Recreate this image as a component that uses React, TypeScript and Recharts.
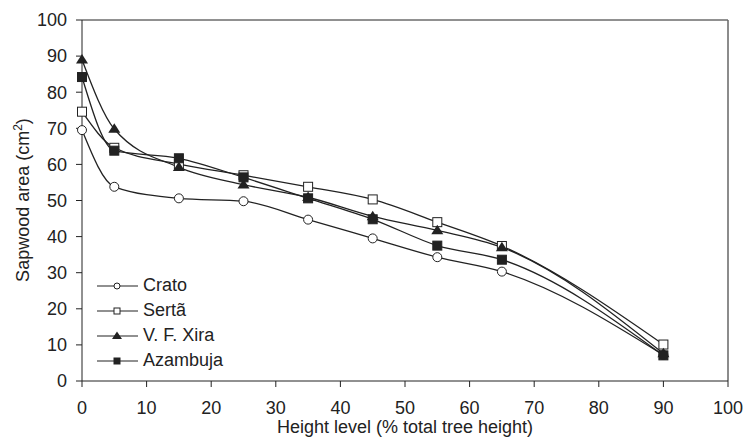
import { Line, LineChart, ReferenceLine, XAxis, YAxis } from "recharts";

const heightLevels = [0, 5, 15, 25, 35, 45, 55, 65, 90];
const crato = [69.5, 53.8, 50.6, 49.8, 44.7, 39.5, 34.3, 30.3, 7.2];
const serta = [74.6, 64.6, 60.1, 57.0, 53.8, 50.3, 44.0, 37.4, 10.1];
const vfXira = [89.0, 69.8, 59.2, 54.4, 50.9, 45.6, 41.7, 37.0, 7.6];
const azambuja = [84.2, 63.8, 61.7, 56.4, 50.6, 44.8, 37.5, 33.6, 7.1];
const xTicks = [0, 10, 20, 30, 40, 50, 60, 70, 80, 90, 100];
const yTicks = [0, 10, 20, 30, 40, 50, 60, 70, 80, 90, 100];

type MarkerKind = "circle" | "square" | "triangle" | "filledSquare";

const series: { key: string; name: string; marker: MarkerKind }[] = [
  { key: "crato", name: "Crato", marker: "circle" },
  { key: "serta", name: "Sertã", marker: "square" },
  { key: "vfXira", name: "V. F. Xira", marker: "triangle" },
  { key: "azambuja", name: "Azambuja", marker: "filledSquare" },
];

const data = heightLevels.map((h, i) => ({
  height: h,
  crato: crato[i],
  serta: serta[i],
  vfXira: vfXira[i],
  azambuja: azambuja[i],
}));

const INK = "#222";
const FONT = "'Liberation Sans', Arial, sans-serif";

function Marker({ kind, cx, cy, s }: { kind: MarkerKind; cx: number; cy: number; s: number }) {
  if (kind === "circle") {
    return <circle cx={cx} cy={cy} r={s / 2} fill="#fff" stroke={INK} strokeWidth={1} />;
  }
  if (kind === "square" || kind === "filledSquare") {
    return (
      <rect
        x={cx - s / 2}
        y={cy - s / 2}
        width={s}
        height={s}
        fill={kind === "square" ? "#fff" : INK}
        stroke={INK}
        strokeWidth={1}
      />
    );
  }
  const h = s * 0.95;
  return (
    <polygon
      points={`${cx},${cy - h * 0.6} ${cx - s / 2 - 1},${cy + h * 0.4} ${cx + s / 2 + 1},${cy + h * 0.4}`}
      fill={INK}
    />
  );
}

// legend sits inside the plot, lower left
function LegendBox() {
  return (
    <div
      style={{
        position: "absolute",
        left: 97,
        top: 273,
        fontFamily: FONT,
        fontSize: 18,
        color: INK,
        lineHeight: "25px",
      }}
    >
      {series.map((s) => (
        <div key={s.key} style={{ display: "flex", alignItems: "center", height: 25 }}>
          <svg width={46} height={14}>
            <line x1={0} y1={7} x2={41} y2={7} stroke={INK} strokeWidth={1.2} />
            <Marker kind={s.marker} cx={20} cy={7} s={s.marker === "triangle" ? 8 : 6} />
          </svg>
          <span>{s.name}</span>
        </div>
      ))}
    </div>
  );
}

function YTitle() {
  return (
    <text
      x={29}
      y={200}
      transform="rotate(-90, 29, 200)"
      textAnchor="middle"
      fill={INK}
      fontSize={18}
      fontFamily={FONT}
    >
      Sapwood area (cm
      <tspan dy={-7} fontSize={12}>2</tspan>
      <tspan dy={7}>)</tspan>
    </text>
  );
}

function XTitle() {
  return (
    <text x={405} y={433} textAnchor="middle" fill={INK} fontSize={18} fontFamily={FONT}>
      Height level (% total tree height)
    </text>
  );
}

export default function App() {
  return (
    <div style={{ position: "absolute", left: 0, top: 0, width: 746, height: 444, background: "#fff" }}>
      <LineChart width={746} height={444} data={data} margin={{ top: 20, right: 18, bottom: 0, left: 0 }}>
        <XAxis
          dataKey="height"
          type="number"
          domain={[0, 100]}
          ticks={xTicks}
          interval={0}
          height={63}
          tickSize={6}
          tickMargin={14}
          axisLine={{ stroke: INK }}
          tickLine={{ stroke: INK }}
          tick={{ fill: INK, fontSize: 18, fontFamily: FONT }}
          label={{ content: () => <XTitle /> }}
        />
        <YAxis
          type="number"
          domain={[0, 100]}
          ticks={yTicks}
          interval={0}
          width={82}
          tickSize={6}
          tickMargin={9}
          axisLine={{ stroke: INK }}
          tickLine={{ stroke: INK }}
          tick={{ fill: INK, fontSize: 18, fontFamily: FONT }}
          label={{ content: () => <YTitle /> }}
        />
        <ReferenceLine y={100} stroke={INK} />
        <ReferenceLine x={100} stroke="#666" strokeWidth={1.5} />
        {series.map((s) => (
          <Line
            key={s.key}
            dataKey={s.key}
            name={s.name}
            type="monotone"
            stroke={INK}
            strokeWidth={1.3}
            isAnimationActive={false}
            dot={(p: any) => (
              <Marker
                key={`${s.key}-${p.index}`}
                kind={s.marker}
                cx={p.cx}
                cy={p.cy}
                s={s.marker === "triangle" ? 10 : 9}
              />
            )}
          />
        ))}
      </LineChart>
      <LegendBox />
    </div>
  );
}
